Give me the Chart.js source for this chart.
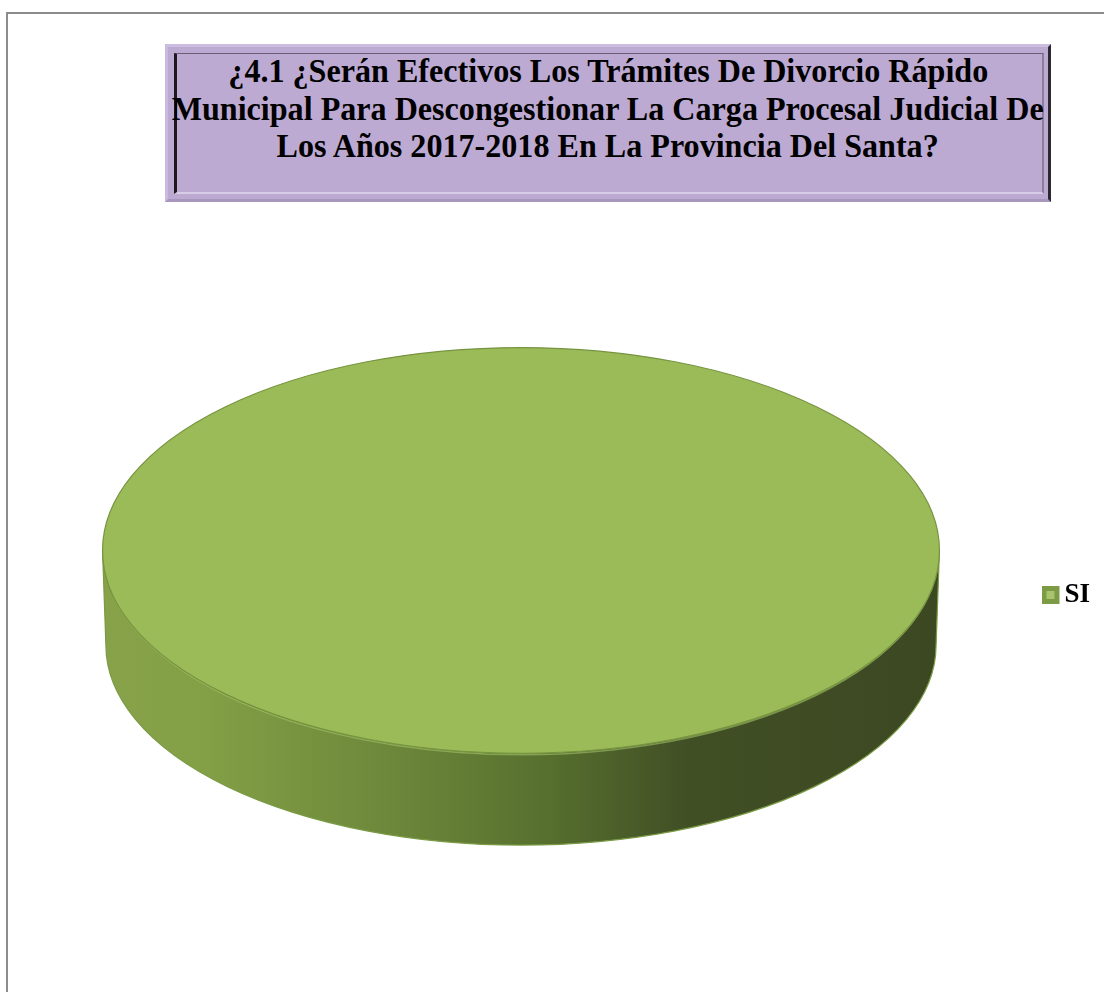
<!DOCTYPE html>
<html>
<head>
<meta charset="utf-8">
<script src="https://cdn.jsdelivr.net/npm/chart.js@4.4.1/dist/chart.umd.min.js"></script>
<style>
  html, body { margin: 0; padding: 0; background: #ffffff; }
  #wrap { position: relative; width: 1104px; height: 992px; overflow: hidden; }
  #frame { position: absolute; left: 6px; top: 12px; width: 1110px; height: 1000px;
           border-top: 2px solid #8c8c8c; border-left: 2px solid #8c8c8c; box-sizing: border-box; }
  canvas { position: absolute; left: 0; top: 0; }
  #tbox { position: absolute; left: 165px; top: 44px; width: 886px; height: 158px; box-sizing: border-box;
          background: #bdaad3;
          border-top: 3px solid #cdbde0; border-left: 3px solid #cbbadf;
          border-right: 3px solid #2c2830; border-bottom: 3px solid #a897bd; }
  #tinner { position: absolute; left: 6px; top: 6px; right: 4px; bottom: 5px; box-sizing: border-box;
            border-left: 3px solid #1c1a1f; border-top: 1px solid #6b5f78;
            border-right: 2px solid #8d7f9c; border-bottom: 2px solid #d8cce6; }
  #title { position: absolute; left: 165px; top: 52px; width: 886px;
           font-family: "Liberation Serif", "Times New Roman", serif; font-weight: bold;
           font-size: 34px; line-height: 37.5px; color: #000; }
  #title .ln { display: flex; justify-content: center; width: 886px; }
  #title .ln span { display: inline-block; white-space: nowrap; transform-origin: 50% 50%; flex: none; }
</style>
</head>
<body>
<div id="wrap">
  <div id="frame"></div>
  <canvas id="c" width="1104" height="992"></canvas>
  <div id="tbox"><div id="tinner"></div></div>
  <div id="title"></div>
</div>
<script>
// ---- data ----
const categories = ['SI'];
const values = [100];
const titleLines = [
  '¿4.1 ¿Serán Efectivos Los Trámites De Divorcio Rápido',
  'Municipal Para Descongestionar La Carga Procesal Judicial De',
  'Los Años 2017-2018 En La Provincia Del Santa?'
];

// ---- style constants ----
const TOP_COLOR = '#9bbb59';
const RIM_COLOR = '#76943f';
const ELLIPSE_X = 1.054;   // horizontal stretch of the pie (relative to radius)
const ELLIPSE_Y = 0.511;   // vertical squash (tilt)
const DEPTH = 0.239;       // extrusion depth relative to radius

// title
const tEl = document.getElementById('title');
const spans = titleLines.map(t => {
  const d = document.createElement('div'); d.className = 'ln';
  const s = document.createElement('span'); s.textContent = t;
  d.appendChild(s); tEl.appendChild(d); return s;
});
const sc = 872 / spans[1].getBoundingClientRect().width;
spans.forEach(s => s.style.transform = 'scaleX(' + sc + ')');

const pie3d = {
  id: 'pie3d',
  beforeDatasetsDraw(chart) {
    const ctx = chart.ctx;
    const arc = chart.getDatasetMeta(0).data[0];
    const p = arc.getProps(['x', 'y', 'outerRadius'], true);
    const R = p.outerRadius;
    const rx = R * ELLIPSE_X, ry = R * ELLIPSE_Y, d = R * DEPTH;
    const cx = p.x, cy = p.y - d * 0.47;
    chart.$geo = { cx, cy, rx, ry, d, R, ax: p.x, ay: p.y };
    ctx.save();
    // side band
    const g = ctx.createLinearGradient(cx - rx, 0, cx + rx, 0);
    g.addColorStop(0.0, '#88a24a');
    g.addColorStop(0.12, '#83a046');
    g.addColorStop(0.35, '#6c873a');
    g.addColorStop(0.52, '#58712f');
    g.addColorStop(0.70, '#414f25');
    g.addColorStop(1.0, '#3c4822');
    const rx2 = rx * 0.992, ry2 = ry * 0.985;
    ctx.beginPath();
    ctx.moveTo(cx - rx, cy);
    ctx.lineTo(cx - rx2, cy + d);
    ctx.ellipse(cx, cy + d, rx2, ry2, 0, Math.PI, 0, true);
    ctx.lineTo(cx + rx, cy);
    ctx.ellipse(cx, cy, rx, ry, 0, 0, Math.PI, false);
    ctx.closePath();
    ctx.fillStyle = g;
    ctx.fill();
    ctx.lineWidth = 1.2;
    ctx.strokeStyle = '#7a9a44';
    ctx.stroke();
    // transform for elliptical top
    ctx.save();
    ctx.translate(cx, cy);
    ctx.scale(rx / R, ry / R);
    ctx.translate(-p.x, -p.y);
  },
  afterDatasetsDraw(chart) {
    const ctx = chart.ctx;
    ctx.restore();
    const g = chart.$geo;
    ctx.beginPath();
    ctx.ellipse(g.cx, g.cy + 1.5, g.rx - 1, g.ry, 0, 0.05 * Math.PI, 0.95 * Math.PI, false);
    ctx.strokeStyle = 'rgba(170,200,110,0.55)';
    ctx.lineWidth = 1.5;
    ctx.stroke();
    ctx.beginPath();
    ctx.ellipse(g.cx, g.cy, g.rx, g.ry, 0, 0, Math.PI * 2);
    ctx.strokeStyle = RIM_COLOR;
    ctx.lineWidth = 1.2;
    ctx.stroke();
    ctx.restore();
  }
};

new Chart(document.getElementById('c'), {
  type: 'pie',
  data: {
    labels: categories,
    datasets: [{ data: values, backgroundColor: TOP_COLOR, borderWidth: 0 }]
  },
  options: {
    responsive: false,
    animation: false,
    events: [],
    layout: { padding: { left: -5, right: 4, top: 198, bottom: 0 } },
    plugins: {
      tooltip: { enabled: false },
      title: { display: false },
      legend: {
        position: 'right',
        labels: {
          font: { family: "'Liberation Serif', 'Times New Roman', serif", weight: 'bold', size: 27 },
          color: '#000',
          usePointStyle: true,
          boxWidth: 1,
          boxHeight: 13,
          padding: 8,
          generateLabels: (chart) => chart.data.labels.map((l, i) => ({
            text: l, fillStyle: '#a8c46c', strokeStyle: '#7d9b45', lineWidth: 5,
            pointStyle: 'rect', hidden: false, index: i, fontColor: '#000'
          }))
        }
      }
    }
  },
  plugins: [pie3d]
});
</script>
</body>
</html>
